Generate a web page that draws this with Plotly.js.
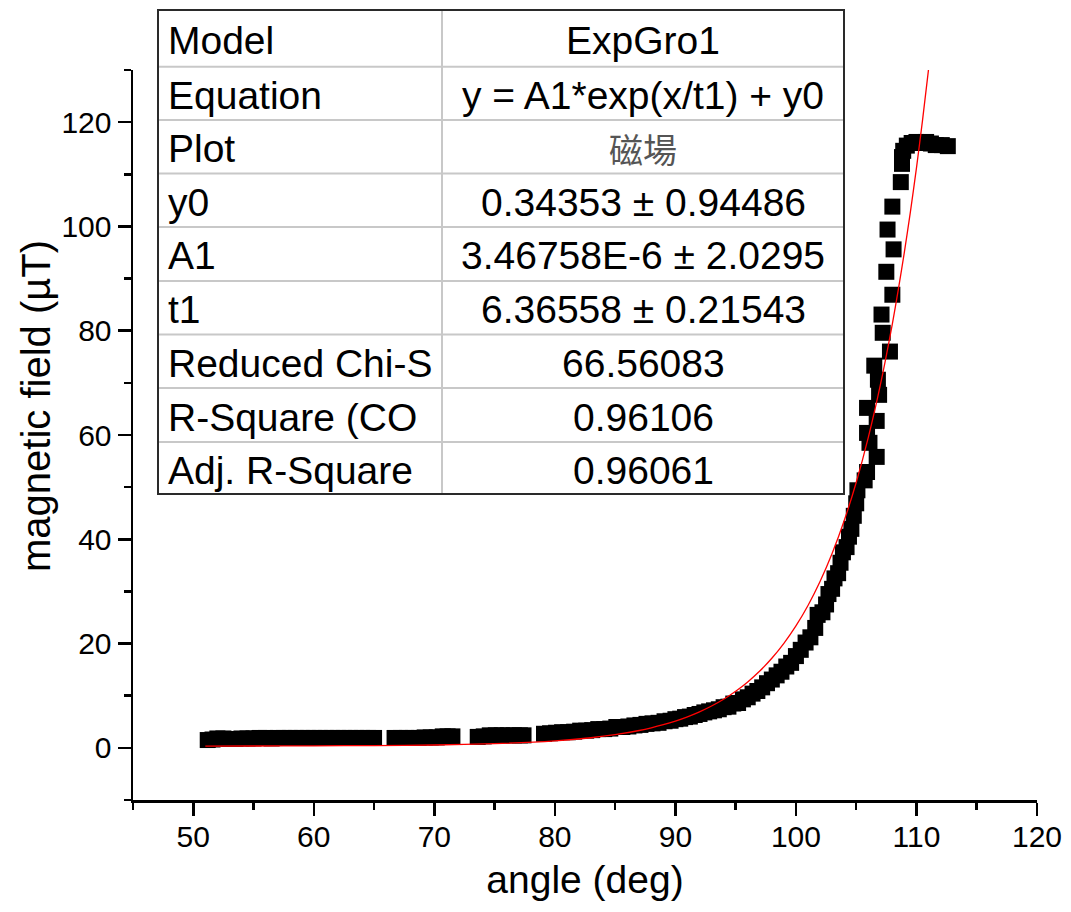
<!DOCTYPE html>
<html>
<head>
<meta charset="utf-8">
<script src="https://cdn.plot.ly/plotly-3.0.1.min.js"></script>
<style>html,body{margin:0;padding:0;background:#fff;}#chart{width:1071px;height:912px;}</style>
</head>
<body>
<div id="chart"></div>
<script>
// ---- measured data (angle in deg, magnetic field in µT) ----
const angle = [
  51.2,51.6,52.0,52.5,53.0,53.5,54.0,54.5,55.0,55.5,56.0,56.5,57.0,57.5,58.0,58.5,59.0,59.5,60.0,60.5,
  61.0,61.5,62.0,62.5,63.0,63.5,64.0,64.5,65.0,
  66.7,67.2,67.7,68.2,68.7,69.2,69.7,70.2,70.7,71.1,71.5,
  73.6,74.1,74.6,75.1,75.6,76.1,76.6,77.1,77.4,
  79.1,79.6,80.1,80.6,81.1,81.6,82.1,82.6,83.1,83.6,84.1,84.6,85.1,85.6,86.1,86.6,87.1,87.6,88.1,88.6,
  89.1,89.6,90.0,90.4,90.8,91.2,91.6,92.0,92.4,92.8,93.2,93.6,94.0,94.4,94.8,95.2,95.6,96.0,96.4,96.8,
  97.2,97.6,98.0,98.4,98.8,99.2,99.6,100.0,100.4,100.8,101.2,101.6,101.8,102.2,102.5,102.7,103.0,103.2,103.5,103.7,
  103.9,104.2,104.4,104.6,104.8,105.0,105.1,105.7,105.9,106.7,106.1,105.9,106.7,105.9,106.9,106.8,106.5,107.8,107.2,107.1,
  108.0,107.5,108.1,107.6,108.0,108.7,108.8,108.8,108.9,109.2,109.6,110.0,110.4,110.8,111.2,111.6,112.1,112.6
];
const field = [
  1.5,1.6,1.8,1.8,1.7,1.7,1.8,1.8,1.8,1.9,1.9,1.8,1.9,1.9,1.9,1.9,1.9,1.9,1.9,1.9,
  1.9,1.9,1.9,1.9,1.9,1.9,1.9,1.9,1.9,
  1.9,1.9,1.9,1.9,1.9,2.0,2.0,2.0,2.2,2.2,2.2,
  2.1,2.2,2.4,2.4,2.4,2.4,2.4,2.4,2.4,
  2.7,2.8,2.9,3.0,3.0,3.1,3.3,3.3,3.4,3.6,3.6,3.7,4.0,4.0,4.1,4.3,4.4,4.6,4.7,4.8,
  5.1,5.2,5.5,5.6,5.9,6.0,6.3,6.5,6.8,7.0,7.2,7.4,7.8,7.9,8.5,8.6,9.3,9.7,10.4,10.9,
  11.6,12.4,13.1,13.9,14.6,15.6,16.3,17.6,18.8,20.2,21.2,23.0,25.5,26.0,27.5,29.5,30.5,32.5,33.5,35.5,
  37.5,38.5,40.5,42.0,44.5,46.9,49.4,51.3,52.9,55.8,58.5,60.4,62.7,65.2,67.7,70.6,73.3,76.0,79.6,83.1,
  86.9,91.3,95.6,99.4,103.8,108.5,112.0,113.3,114.5,115.5,116.0,116.2,116.0,116.2,115.9,115.6,115.6,115.4
];
// ---- ExpGro1 fit curve values ----
const fitAngle = [51,55,60,65,70,75,80,83,85,87,88,89,90,91,92,93,94,95,96,97,98,99,100,101,102,103,104,105,106,107,108,108.5,109,109.5,110,110.5,111];
const fitField = [0.35,0.36,0.39,0.44,0.55,0.80,1.34,1.94,2.53,3.33,3.84,4.44,5.13,5.95,6.90,8.02,9.32,10.85,12.64,14.73,17.18,20.04,23.39,27.31,31.90,37.27,43.55,50.90,59.50,69.56,81.33,87.96,95.11,102.85,111.23,120.28,130.1];
// ---- fit report table ----
const tableLabels = ["Model","Equation","Plot","y0","A1","t1","Reduced Chi-S","R-Square (CO","Adj. R-Square"];
const tableValues = ["ExpGro1","y = A1*exp(x/t1) + y0","磁場","0.34353 ± 0.94486","3.46758E-6 ± 2.0295","6.36558 ± 0.21543","66.56083","0.96106","0.96061"];
// ---- axis tick values and titles ----
const xTicks = [50,60,70,80,90,100,110,120];
const yTicks = [0,20,40,60,80,100,120];
const xTitle = 'angle (deg)';
const yTitle = 'magnetic field (µT)';

const W=1071,H=912,ML=133,MR=34,MT=70,MB=112;
const PW=W-ML-MR, PH=H-MT-MB;
const px=x=>(x-ML)/PW, py=y=>(H-MB-y)/PH;
const FONT='Arial, Liberation Sans, sans-serif';

const rowEdges=[10,66.7,120,173.5,227,281,334.5,388,442,494];
const tL=158,tR=844,tDiv=442;
const shapes=[];
shapes.push({type:'rect',xref:'paper',yref:'paper',x0:px(tL),x1:px(tR),y0:py(rowEdges[9]),y1:py(rowEdges[0]),line:{color:'#2a2a2a',width:2},fillcolor:'#ffffff',layer:'above'});
for(let i=1;i<rowEdges.length-1;i++){
  shapes.push({type:'line',xref:'paper',yref:'paper',x0:px(tL+1),x1:px(tR-1),y0:py(rowEdges[i]),y1:py(rowEdges[i]),line:{color:'#c8c8c8',width:2},layer:'above'});
}
shapes.push({type:'line',xref:'paper',yref:'paper',x0:px(tDiv),x1:px(tDiv),y0:py(rowEdges[0]+1),y1:py(rowEdges[9]-1),line:{color:'#c8c8c8',width:2},layer:'above'});

const annotations=[];
tableLabels.forEach((lab,i)=>{
  const yc=py((rowEdges[i]+rowEdges[i+1])/2+2);
  annotations.push({xref:'paper',yref:'paper',x:px(166),y:yc,xanchor:'left',yanchor:'middle',text:lab,showarrow:false,font:{family:FONT,size:39,color:'#000'}});
  const isCJK = i===2;
  annotations.push({xref:'paper',yref:'paper',x:px((tDiv+tR)/2),y:yc,xanchor:'center',yanchor:'middle',text:tableValues[i],showarrow:false,
    font:{family:isCJK?'Noto Sans CJK TC, sans-serif':FONT,size:isCJK?34:39,color:isCJK?'#555':'#000'}});
});
// y axis title
annotations.push({xref:'paper',yref:'paper',x:px(36),y:py(406),xanchor:'center',yanchor:'middle',textangle:-90,text:yTitle,showarrow:false,font:{family:FONT,size:40,color:'#000'}});

const axisCommon={showgrid:false,zeroline:false,showline:true,linecolor:'#000',linewidth:2.5,ticks:'outside',ticklen:13,tickwidth:2.5,tickcolor:'#000',
  tickfont:{family:FONT,size:30,color:'#000'}};

const data=[
  {x:angle,y:field,type:'scatter',mode:'markers',marker:{symbol:'square',size:16,color:'#000',line:{width:0}},hoverinfo:'x+y'},
  {x:fitAngle,y:fitField,type:'scatter',mode:'lines',line:{color:'#ff0000',width:1.3,shape:'spline',smoothing:0.6}}
];
const layout={
  width:W,height:H,margin:{l:ML,r:MR,t:MT,b:MB},paper_bgcolor:'#fff',plot_bgcolor:'#fff',showlegend:false,
  xaxis:Object.assign({},axisCommon,{range:[45,120],tickvals:xTicks,ticktext:xTicks.map(String),ticklabelstandoff:-5,
    minor:{dtick:5,tick0:45,ticklen:7,tickwidth:2.5,tickcolor:'#000',ticks:'outside'},
    title:{text:xTitle,standoff:14,font:{family:FONT,size:39,color:'#000'}}}),
  yaxis:Object.assign({},axisCommon,{range:[-10,130],tickvals:yTicks,ticktext:yTicks.map(String),
    minor:{dtick:10,tick0:-10,ticklen:7,tickwidth:2.5,tickcolor:'#000',ticks:'outside'}}),
  shapes:shapes,annotations:annotations
};
Plotly.newPlot('chart',data,layout,{staticPlot:true,displayModeBar:false});
</script>
</body>
</html>
